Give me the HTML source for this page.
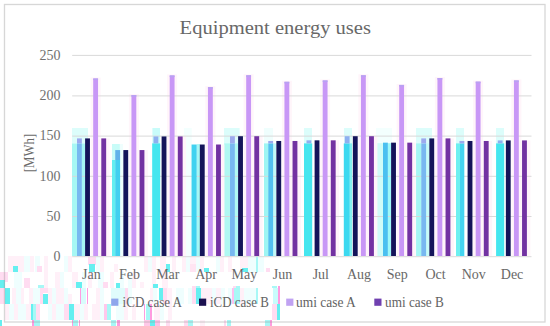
<!DOCTYPE html>
<html><head><meta charset="utf-8"><style>
html,body{margin:0;padding:0;background:#fff;}
svg{display:block;}
text{font-family:"Liberation Serif",serif;fill:#636363;}
.t13{font-size:13px;}
.t14{font-size:14px;}
.t19{font-size:19.5px;fill:#686868;}
</style></head><body>
<svg width="550" height="326" viewBox="0 0 550 326">
<rect x="8" y="256" width="16" height="16" fill="#fff0f8"/>
<rect x="13" y="266" width="5" height="6" fill="#66eff0"/>
<rect x="24" y="256" width="6" height="16" fill="#effefe"/>
<rect x="30" y="256" width="4" height="16" fill="#fff0f8"/>
<rect x="35" y="256" width="5" height="16" fill="#effefe"/>
<rect x="37" y="266" width="5" height="6" fill="#ffdcf1"/>
<rect x="44" y="256" width="4" height="16" fill="#fff0f8"/>
<rect x="64" y="256" width="4" height="16" fill="#effefe"/>
<rect x="68" y="256" width="4" height="16" fill="#fff0f8"/>
<rect x="88" y="256" width="8" height="9" fill="#ffdcf1"/>
<rect x="89" y="264" width="6" height="8" fill="#66eff0"/>
<rect x="96" y="256" width="4" height="16" fill="#effefe"/>
<rect x="100" y="256" width="4" height="16" fill="#fff0f8"/>
<rect x="114" y="264" width="4" height="8" fill="#fff0f8"/>
<rect x="144" y="256" width="4" height="16" fill="#fff0f8"/>
<rect x="148" y="256" width="4" height="16" fill="#effefe"/>
<rect x="152" y="256" width="4" height="16" fill="#fff0f8"/>
<rect x="160" y="256" width="6" height="16" fill="#fff0f8"/>
<rect x="166" y="264" width="4" height="8" fill="#66eff0"/>
<rect x="172" y="256" width="4" height="16" fill="#fff0f8"/>
<rect x="182" y="256" width="4" height="16" fill="#fff0f8"/>
<rect x="186" y="256" width="4" height="16" fill="#effefe"/>
<rect x="190" y="256" width="6" height="16" fill="#fff0f8"/>
<rect x="190" y="264" width="6" height="8" fill="#ffe4f2"/>
<rect x="196" y="256" width="4" height="16" fill="#effefe"/>
<rect x="200" y="256" width="4" height="16" fill="#fff0f8"/>
<rect x="204" y="268" width="5" height="4" fill="#66eff0"/>
<rect x="216" y="256" width="4" height="16" fill="#effefe"/>
<rect x="220" y="256" width="4" height="16" fill="#fff0f8"/>
<rect x="228" y="256" width="4" height="16" fill="#fff0f8"/>
<rect x="240" y="256" width="8" height="16" fill="#fff0f8"/>
<rect x="242" y="268" width="6" height="4" fill="#66eff0"/>
<rect x="248" y="256" width="8" height="16" fill="#effefe"/>
<rect x="256" y="256" width="2" height="16" fill="#a8f8f6"/>
<rect x="258" y="256" width="6" height="16" fill="#effefe"/>
<rect x="266" y="268" width="4" height="4" fill="#ffdcf1"/>
<rect x="0" y="272" width="8" height="10" fill="#ffdcf1"/>
<rect x="0" y="280" width="5" height="8" fill="#66eff0"/>
<rect x="14" y="272" width="8" height="16" fill="#effefe"/>
<rect x="24" y="278" width="6" height="10" fill="#ffdcf1"/>
<rect x="38" y="285" width="6" height="3" fill="#a8f8f6"/>
<rect x="44" y="272" width="4" height="16" fill="#fff0f8"/>
<rect x="55" y="272" width="5" height="16" fill="#fff0f8"/>
<rect x="60" y="272" width="4" height="16" fill="#effefe"/>
<rect x="72" y="272" width="6" height="16" fill="#fff0f8"/>
<rect x="76" y="282" width="6" height="6" fill="#66eff0"/>
<rect x="82" y="272" width="4" height="16" fill="#effefe"/>
<rect x="88" y="272" width="4" height="16" fill="#fff0f8"/>
<rect x="98" y="272" width="6" height="16" fill="#effefe"/>
<rect x="103" y="282" width="5" height="6" fill="#ffdcf1"/>
<rect x="110" y="272" width="4" height="16" fill="#fff0f8"/>
<rect x="116" y="283" width="4" height="5" fill="#66eff0"/>
<rect x="120" y="272" width="4" height="16" fill="#effefe"/>
<rect x="128" y="272" width="4" height="16" fill="#effefe"/>
<rect x="132" y="272" width="4" height="16" fill="#fff0f8"/>
<rect x="140" y="282" width="4" height="6" fill="#fff0f8"/>
<rect x="152" y="272" width="4" height="16" fill="#fff0f8"/>
<rect x="153" y="284" width="5" height="4" fill="#66eff0"/>
<rect x="162" y="272" width="6" height="16" fill="#fff0f8"/>
<rect x="192" y="286" width="4" height="2" fill="#ffdcf1"/>
<rect x="196" y="286" width="4" height="2" fill="#a8f8f6"/>
<rect x="233" y="286" width="3" height="2" fill="#ffdcf1"/>
<rect x="236" y="286" width="4" height="2" fill="#a8f8f6"/>
<rect x="272" y="286" width="5" height="2" fill="#a8f8f6"/>
<rect x="278" y="286" width="2" height="2" fill="#ff9ce0"/>
<rect x="0" y="288" width="5" height="16" fill="#ffdcf1"/>
<rect x="5" y="288" width="5" height="16" fill="#66eff0"/>
<rect x="12" y="288" width="4" height="16" fill="#fff0f8"/>
<rect x="16" y="288" width="5" height="16" fill="#effefe"/>
<rect x="21" y="288" width="3" height="16" fill="#fff0f8"/>
<rect x="29" y="288" width="4" height="16" fill="#fff0f8"/>
<rect x="33" y="288" width="7" height="16" fill="#effefe"/>
<rect x="40" y="288" width="8" height="5" fill="#ffdcf1"/>
<rect x="40" y="293" width="3" height="11" fill="#ffdcf1"/>
<rect x="43" y="294" width="5" height="10" fill="#66eff0"/>
<rect x="48" y="288" width="4" height="16" fill="#fff0f8"/>
<rect x="52" y="288" width="4" height="16" fill="#effefe"/>
<rect x="56" y="288" width="8" height="16" fill="#fff0f8"/>
<rect x="64" y="288" width="4" height="16" fill="#effefe"/>
<rect x="68" y="294" width="4" height="10" fill="#fff0f8"/>
<rect x="80" y="288" width="1" height="16" fill="#ff9ce0"/>
<rect x="81" y="288" width="5" height="16" fill="#d8fcfc"/>
<rect x="87" y="288" width="1" height="16" fill="#ff9ce0"/>
<rect x="96" y="288" width="4" height="16" fill="#fff0f8"/>
<rect x="100" y="288" width="4" height="16" fill="#effefe"/>
<rect x="111" y="288" width="14" height="16" fill="#e0fcfc"/>
<rect x="125" y="288" width="3" height="16" fill="#ffdcf1"/>
<rect x="128" y="288" width="4" height="16" fill="#effefe"/>
<rect x="150" y="288" width="3" height="16" fill="#fff0f8"/>
<rect x="153" y="288" width="4" height="16" fill="#effefe"/>
<rect x="159" y="288" width="4" height="12" fill="#66eff0"/>
<rect x="163" y="288" width="4" height="16" fill="#ffdcf1"/>
<rect x="167" y="288" width="5" height="16" fill="#fff0f8"/>
<rect x="176" y="288" width="8" height="16" fill="#effefe"/>
<rect x="188" y="288" width="4" height="16" fill="#effefe"/>
<rect x="192" y="288" width="4" height="16" fill="#ffdcf1"/>
<rect x="196" y="288" width="5" height="16" fill="#66eff0"/>
<rect x="201" y="288" width="11" height="16" fill="#fff0f8"/>
<rect x="212" y="288" width="4" height="16" fill="#effefe"/>
<rect x="216" y="288" width="5" height="16" fill="#fff0f8"/>
<rect x="221" y="288" width="4" height="16" fill="#effefe"/>
<rect x="228" y="288" width="4" height="16" fill="#effefe"/>
<rect x="232" y="288" width="2" height="16" fill="#ffc0f0"/>
<rect x="234" y="288" width="6" height="16" fill="#a8f8f6"/>
<rect x="240" y="288" width="4" height="16" fill="#fff0f8"/>
<rect x="244" y="288" width="12" height="16" fill="#effefe"/>
<rect x="256" y="288" width="2" height="16" fill="#a8f8f6"/>
<rect x="273" y="288" width="5" height="16" fill="#c8fcfc"/>
<rect x="278" y="288" width="2" height="16" fill="#ff9ce0"/>
<rect x="5" y="304" width="4" height="16" fill="#fff0f8"/>
<rect x="9" y="304" width="5" height="16" fill="#effefe"/>
<rect x="14" y="304" width="4" height="16" fill="#fff0f8"/>
<rect x="18" y="304" width="8" height="16" fill="#effefe"/>
<rect x="26" y="304" width="5" height="16" fill="#fff0f8"/>
<rect x="31" y="304" width="2" height="16" fill="#66eff0"/>
<rect x="33" y="304" width="3" height="16" fill="#a8f8f6"/>
<rect x="36" y="304" width="4" height="16" fill="#ffdcf1"/>
<rect x="48" y="304" width="4" height="16" fill="#effefe"/>
<rect x="52" y="304" width="4" height="16" fill="#fff0f8"/>
<rect x="56" y="304" width="8" height="16" fill="#effefe"/>
<rect x="64" y="304" width="5" height="16" fill="#ffdcf1"/>
<rect x="69" y="304" width="5" height="16" fill="#66eff0"/>
<rect x="74" y="304" width="6" height="16" fill="#fff0f8"/>
<rect x="80" y="304" width="4" height="16" fill="#effefe"/>
<rect x="84" y="304" width="4" height="16" fill="#fff0f8"/>
<rect x="92" y="304" width="8" height="16" fill="#fff0f8"/>
<rect x="100" y="304" width="4" height="16" fill="#effefe"/>
<rect x="104" y="304" width="3" height="16" fill="#ffc8ec"/>
<rect x="107" y="304" width="4" height="16" fill="#a8f8f6"/>
<rect x="116" y="304" width="8" height="16" fill="#effefe"/>
<rect x="124" y="304" width="4" height="16" fill="#fff0f8"/>
<rect x="132" y="304" width="4" height="16" fill="#fff0f8"/>
<rect x="144" y="304" width="1" height="16" fill="#ff9ce0"/>
<rect x="146" y="304" width="4" height="16" fill="#a8f8f6"/>
<rect x="150" y="304" width="2" height="16" fill="#ff9ce0"/>
<rect x="154" y="304" width="6" height="16" fill="#fff0f8"/>
<rect x="160" y="304" width="4" height="16" fill="#effefe"/>
<rect x="168" y="304" width="4" height="16" fill="#fff0f8"/>
<rect x="272" y="304" width="5" height="16" fill="#ffdcf1"/>
<rect x="277" y="304" width="3" height="16" fill="#66eff0"/>
<rect x="0" y="320" width="2" height="6" fill="#66eff0"/>
<rect x="32" y="320" width="2" height="6" fill="#ff9ce0"/>
<rect x="34" y="320" width="6" height="6" fill="#a8f8f6"/>
<rect x="72" y="320" width="1" height="6" fill="#ff9ce0"/>
<rect x="73" y="320" width="5" height="6" fill="#a8f8f6"/>
<rect x="79" y="320" width="1" height="6" fill="#ff9ce0"/>
<rect x="111" y="320" width="5" height="6" fill="#a8f8f6"/>
<rect x="117" y="320" width="3" height="6" fill="#ff9ce0"/>
<rect x="144" y="320" width="6" height="6" fill="#ffc8e8"/>
<rect x="150" y="320" width="5" height="6" fill="#66eff0"/>
<rect x="155" y="320" width="5" height="6" fill="#ffc0e8"/>
<rect x="166" y="320" width="4" height="6" fill="#ffdcf1"/>
<rect x="184" y="320" width="4" height="6" fill="#ffdcf1"/>
<rect x="188" y="320" width="5" height="6" fill="#a8f8f6"/>
<rect x="200" y="320" width="5" height="6" fill="#fff0f8"/>
<rect x="224" y="320" width="2" height="6" fill="#ffdcf1"/>
<rect x="227" y="320" width="4" height="6" fill="#a8f8f6"/>
<rect x="265" y="320" width="5" height="6" fill="#a8f8f6"/>
<rect x="270" y="320" width="2" height="6" fill="#ff9ce0"/>
<rect x="4.5" y="4.5" width="540.5" height="317.5" fill="none" stroke="rgba(150,150,150,0.38)" stroke-width="1.3"/>
<rect x="72.00" y="128.00" width="16.00" height="128.00" fill="#dcfdfb"/>
<rect x="72.00" y="143.60" width="5.20" height="112.40" fill="#a6f7f4"/>
<rect x="82.00" y="143.60" width="3.00" height="112.40" fill="#a6f7f4"/>
<rect x="112.00" y="144.00" width="8.00" height="112.00" fill="#c8fcf8"/>
<rect x="119.80" y="144.00" width="3.20" height="112.00" fill="#effefd"/>
<rect x="152.40" y="128.00" width="7.60" height="128.00" fill="#c8fcfa"/>
<rect x="184.00" y="128.00" width="7.70" height="128.00" fill="#f3fffe"/>
<rect x="196.80" y="144.10" width="3.20" height="111.90" fill="#a6f7f4"/>
<rect x="224.00" y="128.00" width="15.60" height="128.00" fill="#dcfdfb"/>
<rect x="224.20" y="143.40" width="6.00" height="112.60" fill="#b0f8f2"/>
<rect x="234.80" y="143.40" width="3.20" height="112.60" fill="#b0f8f2"/>
<rect x="264.00" y="128.00" width="9.00" height="128.00" fill="#effefd"/>
<rect x="264.00" y="143.40" width="4.20" height="112.60" fill="#9ef5f3"/>
<rect x="272.80" y="143.40" width="3.20" height="112.60" fill="#c2f9f8"/>
<rect x="304.00" y="128.00" width="8.00" height="128.00" fill="#dcfdfb"/>
<rect x="344.00" y="128.00" width="8.00" height="128.00" fill="#dcfdfb"/>
<rect x="376.00" y="128.00" width="16.00" height="128.00" fill="#f3fffe"/>
<rect x="376.00" y="143.20" width="7.20" height="112.80" fill="#d0fcf8"/>
<rect x="387.80" y="143.20" width="3.20" height="112.80" fill="#9ef8f8"/>
<rect x="416.00" y="128.00" width="16.00" height="128.00" fill="#dcfdfb"/>
<rect x="416.10" y="143.40" width="5.10" height="112.60" fill="#a6f7f4"/>
<rect x="425.80" y="143.40" width="3.20" height="112.60" fill="#c8fcf8"/>
<rect x="456.00" y="128.00" width="8.00" height="128.00" fill="#dcfdfb"/>
<rect x="496.00" y="128.00" width="8.00" height="128.00" fill="#dcfdfb"/>
<rect x="90.60" y="77.49" width="10.05" height="60.91" fill="#fff5fa"/>
<rect x="90.60" y="138.40" width="19.05" height="117.60" fill="#fff4fa"/>
<rect x="128.85" y="94.08" width="10.05" height="56.00" fill="#fff5fa"/>
<rect x="128.85" y="150.07" width="19.05" height="105.93" fill="#fff4fa"/>
<rect x="167.10" y="74.43" width="10.05" height="62.03" fill="#fff5fa"/>
<rect x="167.10" y="136.46" width="19.05" height="119.54" fill="#fff4fa"/>
<rect x="205.35" y="86.11" width="10.05" height="58.41" fill="#fff5fa"/>
<rect x="205.35" y="144.52" width="19.05" height="111.48" fill="#fff4fa"/>
<rect x="243.60" y="74.27" width="10.05" height="61.95" fill="#fff5fa"/>
<rect x="243.60" y="136.22" width="19.05" height="119.78" fill="#fff4fa"/>
<rect x="281.85" y="80.79" width="10.05" height="60.18" fill="#fff5fa"/>
<rect x="281.85" y="140.97" width="19.05" height="115.03" fill="#fff4fa"/>
<rect x="320.10" y="79.42" width="10.05" height="60.91" fill="#fff5fa"/>
<rect x="320.10" y="140.33" width="19.05" height="115.67" fill="#fff4fa"/>
<rect x="358.35" y="74.27" width="10.05" height="61.95" fill="#fff5fa"/>
<rect x="358.35" y="136.22" width="19.05" height="119.78" fill="#fff4fa"/>
<rect x="396.60" y="83.93" width="10.05" height="58.73" fill="#fff5fa"/>
<rect x="396.60" y="142.66" width="19.05" height="113.34" fill="#fff4fa"/>
<rect x="434.85" y="77.01" width="10.05" height="61.39" fill="#fff5fa"/>
<rect x="434.85" y="138.40" width="19.05" height="117.60" fill="#fff4fa"/>
<rect x="473.10" y="80.63" width="10.05" height="60.34" fill="#fff5fa"/>
<rect x="473.10" y="140.97" width="19.05" height="115.03" fill="#fff4fa"/>
<rect x="511.35" y="79.42" width="10.05" height="60.99" fill="#fff5fa"/>
<rect x="511.35" y="140.41" width="19.05" height="115.59" fill="#fff4fa"/>
<line x1="72.2" x2="531.5" y1="256.70" y2="256.70" stroke="#d9d9d9" stroke-width="1"/>
<line x1="72.2" x2="531.5" y1="216.50" y2="216.50" stroke="#d9d9d9" stroke-width="1"/>
<line x1="72.2" x2="531.5" y1="176.30" y2="176.30" stroke="#d9d9d9" stroke-width="1"/>
<line x1="72.2" x2="531.5" y1="136.10" y2="136.10" stroke="#d9d9d9" stroke-width="1"/>
<line x1="72.2" x2="531.5" y1="95.90" y2="95.90" stroke="#d9d9d9" stroke-width="1"/>
<line x1="72.2" x2="531.5" y1="55.40" y2="55.40" stroke="#d9d9d9" stroke-width="1"/>
<rect x="77.00" y="138.40" width="4.85" height="5.10" fill="#9caaee"/>
<rect x="77.00" y="143.50" width="4.85" height="112.50" fill="#78b8f0"/>
<rect x="85.10" y="138.40" width="4.85" height="117.60" fill="#14145a"/>
<rect x="93.20" y="78.49" width="4.85" height="177.51" fill="#c897f6"/>
<rect x="93.20" y="78.49" width="4.85" height="1.60" fill="#b8a2f2"/>
<rect x="101.30" y="138.40" width="4.85" height="117.60" fill="#7232a2"/>
<rect x="112.00" y="160.00" width="3.20" height="96.00" fill="#62eff0"/>
<rect x="115.25" y="150.07" width="4.85" height="9.93" fill="#62b2ea"/>
<rect x="115.25" y="160.00" width="4.85" height="96.00" fill="#42d0f0"/>
<rect x="123.35" y="150.07" width="4.85" height="105.93" fill="#14145a"/>
<rect x="131.45" y="95.08" width="4.85" height="160.92" fill="#c897f6"/>
<rect x="131.45" y="95.08" width="4.85" height="1.60" fill="#b8a2f2"/>
<rect x="139.55" y="150.07" width="4.85" height="105.93" fill="#7232a2"/>
<rect x="152.20" y="143.40" width="8.00" height="112.60" fill="#46e6ef"/>
<rect x="153.50" y="136.46" width="4.85" height="6.94" fill="#8eb0f0"/>
<rect x="161.60" y="136.46" width="4.85" height="119.54" fill="#14145a"/>
<rect x="169.70" y="75.43" width="4.85" height="180.57" fill="#c897f6"/>
<rect x="169.70" y="75.43" width="4.85" height="1.60" fill="#b8a2f2"/>
<rect x="177.80" y="136.46" width="4.85" height="119.54" fill="#7232a2"/>
<rect x="191.55" y="144.52" width="5.15" height="111.48" fill="#40d2f0"/>
<rect x="199.85" y="144.52" width="4.85" height="111.48" fill="#14145a"/>
<rect x="207.95" y="87.11" width="4.85" height="168.89" fill="#c897f6"/>
<rect x="207.95" y="87.11" width="4.85" height="1.60" fill="#b8a2f2"/>
<rect x="216.05" y="144.52" width="4.85" height="111.48" fill="#7232a2"/>
<rect x="230.00" y="136.22" width="4.85" height="7.28" fill="#9caaee"/>
<rect x="230.00" y="143.50" width="4.85" height="112.50" fill="#78b8f0"/>
<rect x="238.10" y="136.22" width="4.85" height="119.78" fill="#14145a"/>
<rect x="246.20" y="75.27" width="4.85" height="180.73" fill="#c897f6"/>
<rect x="246.20" y="75.27" width="4.85" height="1.60" fill="#b8a2f2"/>
<rect x="254.30" y="136.22" width="4.85" height="119.78" fill="#7232a2"/>
<rect x="268.25" y="140.97" width="4.85" height="2.53" fill="#9caaee"/>
<rect x="268.25" y="143.50" width="4.85" height="112.50" fill="#52c0f0"/>
<rect x="276.35" y="140.97" width="4.85" height="115.03" fill="#14145a"/>
<rect x="284.45" y="81.79" width="4.85" height="174.21" fill="#c897f6"/>
<rect x="284.45" y="81.79" width="4.85" height="1.60" fill="#b8a2f2"/>
<rect x="292.55" y="140.97" width="4.85" height="115.03" fill="#7232a2"/>
<rect x="304.00" y="143.40" width="8.20" height="112.60" fill="#46e6ef"/>
<rect x="306.50" y="140.33" width="4.85" height="3.07" fill="#8eb0f0"/>
<rect x="314.60" y="140.33" width="4.85" height="115.67" fill="#14145a"/>
<rect x="322.70" y="80.42" width="4.85" height="175.58" fill="#c897f6"/>
<rect x="322.70" y="80.42" width="4.85" height="1.60" fill="#b8a2f2"/>
<rect x="330.80" y="140.33" width="4.85" height="115.67" fill="#7232a2"/>
<rect x="343.80" y="143.40" width="6.00" height="112.60" fill="#3cd9f0"/>
<rect x="349.80" y="143.40" width="2.30" height="112.60" fill="#84f1f1"/>
<rect x="344.75" y="136.22" width="4.85" height="7.18" fill="#8eb0f0"/>
<rect x="352.85" y="136.22" width="4.85" height="119.78" fill="#14145a"/>
<rect x="360.95" y="75.27" width="4.85" height="180.73" fill="#c897f6"/>
<rect x="360.95" y="75.27" width="4.85" height="1.60" fill="#b8a2f2"/>
<rect x="369.05" y="136.22" width="4.85" height="119.78" fill="#7232a2"/>
<rect x="383.00" y="142.66" width="4.85" height="113.34" fill="#4ac0f0"/>
<rect x="391.10" y="142.66" width="4.85" height="113.34" fill="#14145a"/>
<rect x="399.20" y="84.93" width="4.85" height="171.07" fill="#c897f6"/>
<rect x="399.20" y="84.93" width="4.85" height="1.60" fill="#b8a2f2"/>
<rect x="407.30" y="142.66" width="4.85" height="113.34" fill="#7232a2"/>
<rect x="421.25" y="138.40" width="4.85" height="5.10" fill="#9caaee"/>
<rect x="421.25" y="143.50" width="4.85" height="112.50" fill="#78b8f0"/>
<rect x="429.35" y="138.40" width="4.85" height="117.60" fill="#14145a"/>
<rect x="437.45" y="78.01" width="4.85" height="177.99" fill="#c897f6"/>
<rect x="437.45" y="78.01" width="4.85" height="1.60" fill="#b8a2f2"/>
<rect x="445.55" y="138.40" width="4.85" height="117.60" fill="#7232a2"/>
<rect x="456.00" y="143.40" width="4.00" height="112.60" fill="#6ef0f0"/>
<rect x="460.00" y="143.40" width="4.30" height="112.60" fill="#44d4f0"/>
<rect x="459.50" y="140.97" width="4.85" height="2.43" fill="#9caaee"/>
<rect x="467.60" y="140.97" width="4.85" height="115.03" fill="#14145a"/>
<rect x="475.70" y="81.63" width="4.85" height="174.37" fill="#c897f6"/>
<rect x="475.70" y="81.63" width="4.85" height="1.60" fill="#b8a2f2"/>
<rect x="483.80" y="140.97" width="4.85" height="115.03" fill="#7232a2"/>
<rect x="496.10" y="143.40" width="8.10" height="112.60" fill="#46e6ef"/>
<rect x="497.75" y="140.41" width="4.85" height="2.99" fill="#8eb0f0"/>
<rect x="505.85" y="140.41" width="4.85" height="115.59" fill="#14145a"/>
<rect x="513.95" y="80.42" width="4.85" height="175.58" fill="#c897f6"/>
<rect x="513.95" y="80.42" width="4.85" height="1.60" fill="#b8a2f2"/>
<rect x="522.05" y="140.41" width="4.85" height="115.59" fill="#7232a2"/>
<text x="60.4" y="261.20" text-anchor="end" class="t14" style="fill:#707070">0</text>
<text x="60.4" y="220.94" text-anchor="end" class="t14" style="fill:#707070">50</text>
<text x="60.4" y="180.68" text-anchor="end" class="t14" style="fill:#707070">100</text>
<text x="60.4" y="140.42" text-anchor="end" class="t14" style="fill:#707070">150</text>
<text x="60.4" y="100.16" text-anchor="end" class="t14" style="fill:#707070">200</text>
<text x="60.4" y="59.90" text-anchor="end" class="t14" style="fill:#707070">250</text>
<text x="91.33" y="279.0" text-anchor="middle" class="t14" style="fill:#686868">Jan</text>
<text x="129.57" y="279.0" text-anchor="middle" class="t14" style="fill:#686868">Feb</text>
<text x="167.82" y="279.0" text-anchor="middle" class="t14" style="fill:#686868">Mar</text>
<text x="206.07" y="279.0" text-anchor="middle" class="t14" style="fill:#686868">Apr</text>
<text x="244.32" y="279.0" text-anchor="middle" class="t14" style="fill:#686868">May</text>
<text x="282.57" y="279.0" text-anchor="middle" class="t14" style="fill:#686868">Jun</text>
<text x="320.82" y="279.0" text-anchor="middle" class="t14" style="fill:#686868">Jul</text>
<text x="359.07" y="279.0" text-anchor="middle" class="t14" style="fill:#686868">Aug</text>
<text x="397.32" y="279.0" text-anchor="middle" class="t14" style="fill:#686868">Sep</text>
<text x="435.57" y="279.0" text-anchor="middle" class="t14" style="fill:#686868">Oct</text>
<text x="473.82" y="279.0" text-anchor="middle" class="t14" style="fill:#686868">Nov</text>
<text x="512.08" y="279.0" text-anchor="middle" class="t14" style="fill:#686868">Dec</text>
<text transform="translate(33.6,172.3) rotate(-90)" class="t14" style="fill:#6a6a6a" textLength="38.5" lengthAdjust="spacingAndGlyphs">[MWh]</text>
<text x="179.6" y="33.6" class="t19" textLength="191.4" lengthAdjust="spacingAndGlyphs">Equipment energy uses</text>
<rect x="111.2" y="298.6" width="7.2" height="7.2" fill="#8ea6ec"/>
<text x="122.6" y="306.8" class="t14" textLength="59.4" lengthAdjust="spacingAndGlyphs">iCD case A</text>
<rect x="199" y="298.6" width="7.2" height="7.2" fill="#1c1050"/>
<text x="210" y="306.8" class="t14" textLength="59" lengthAdjust="spacingAndGlyphs">iCD case B</text>
<rect x="286.2" y="298.6" width="7.2" height="7.2" fill="#c0a2f2"/>
<text x="296" y="306.8" class="t14" textLength="59.7" lengthAdjust="spacingAndGlyphs">umi case A</text>
<rect x="374.3" y="298.6" width="7.2" height="7.2" fill="#7040b0"/>
<text x="385.1" y="306.8" class="t14" textLength="58.7" lengthAdjust="spacingAndGlyphs">umi case B</text>
</svg>
</body></html>
